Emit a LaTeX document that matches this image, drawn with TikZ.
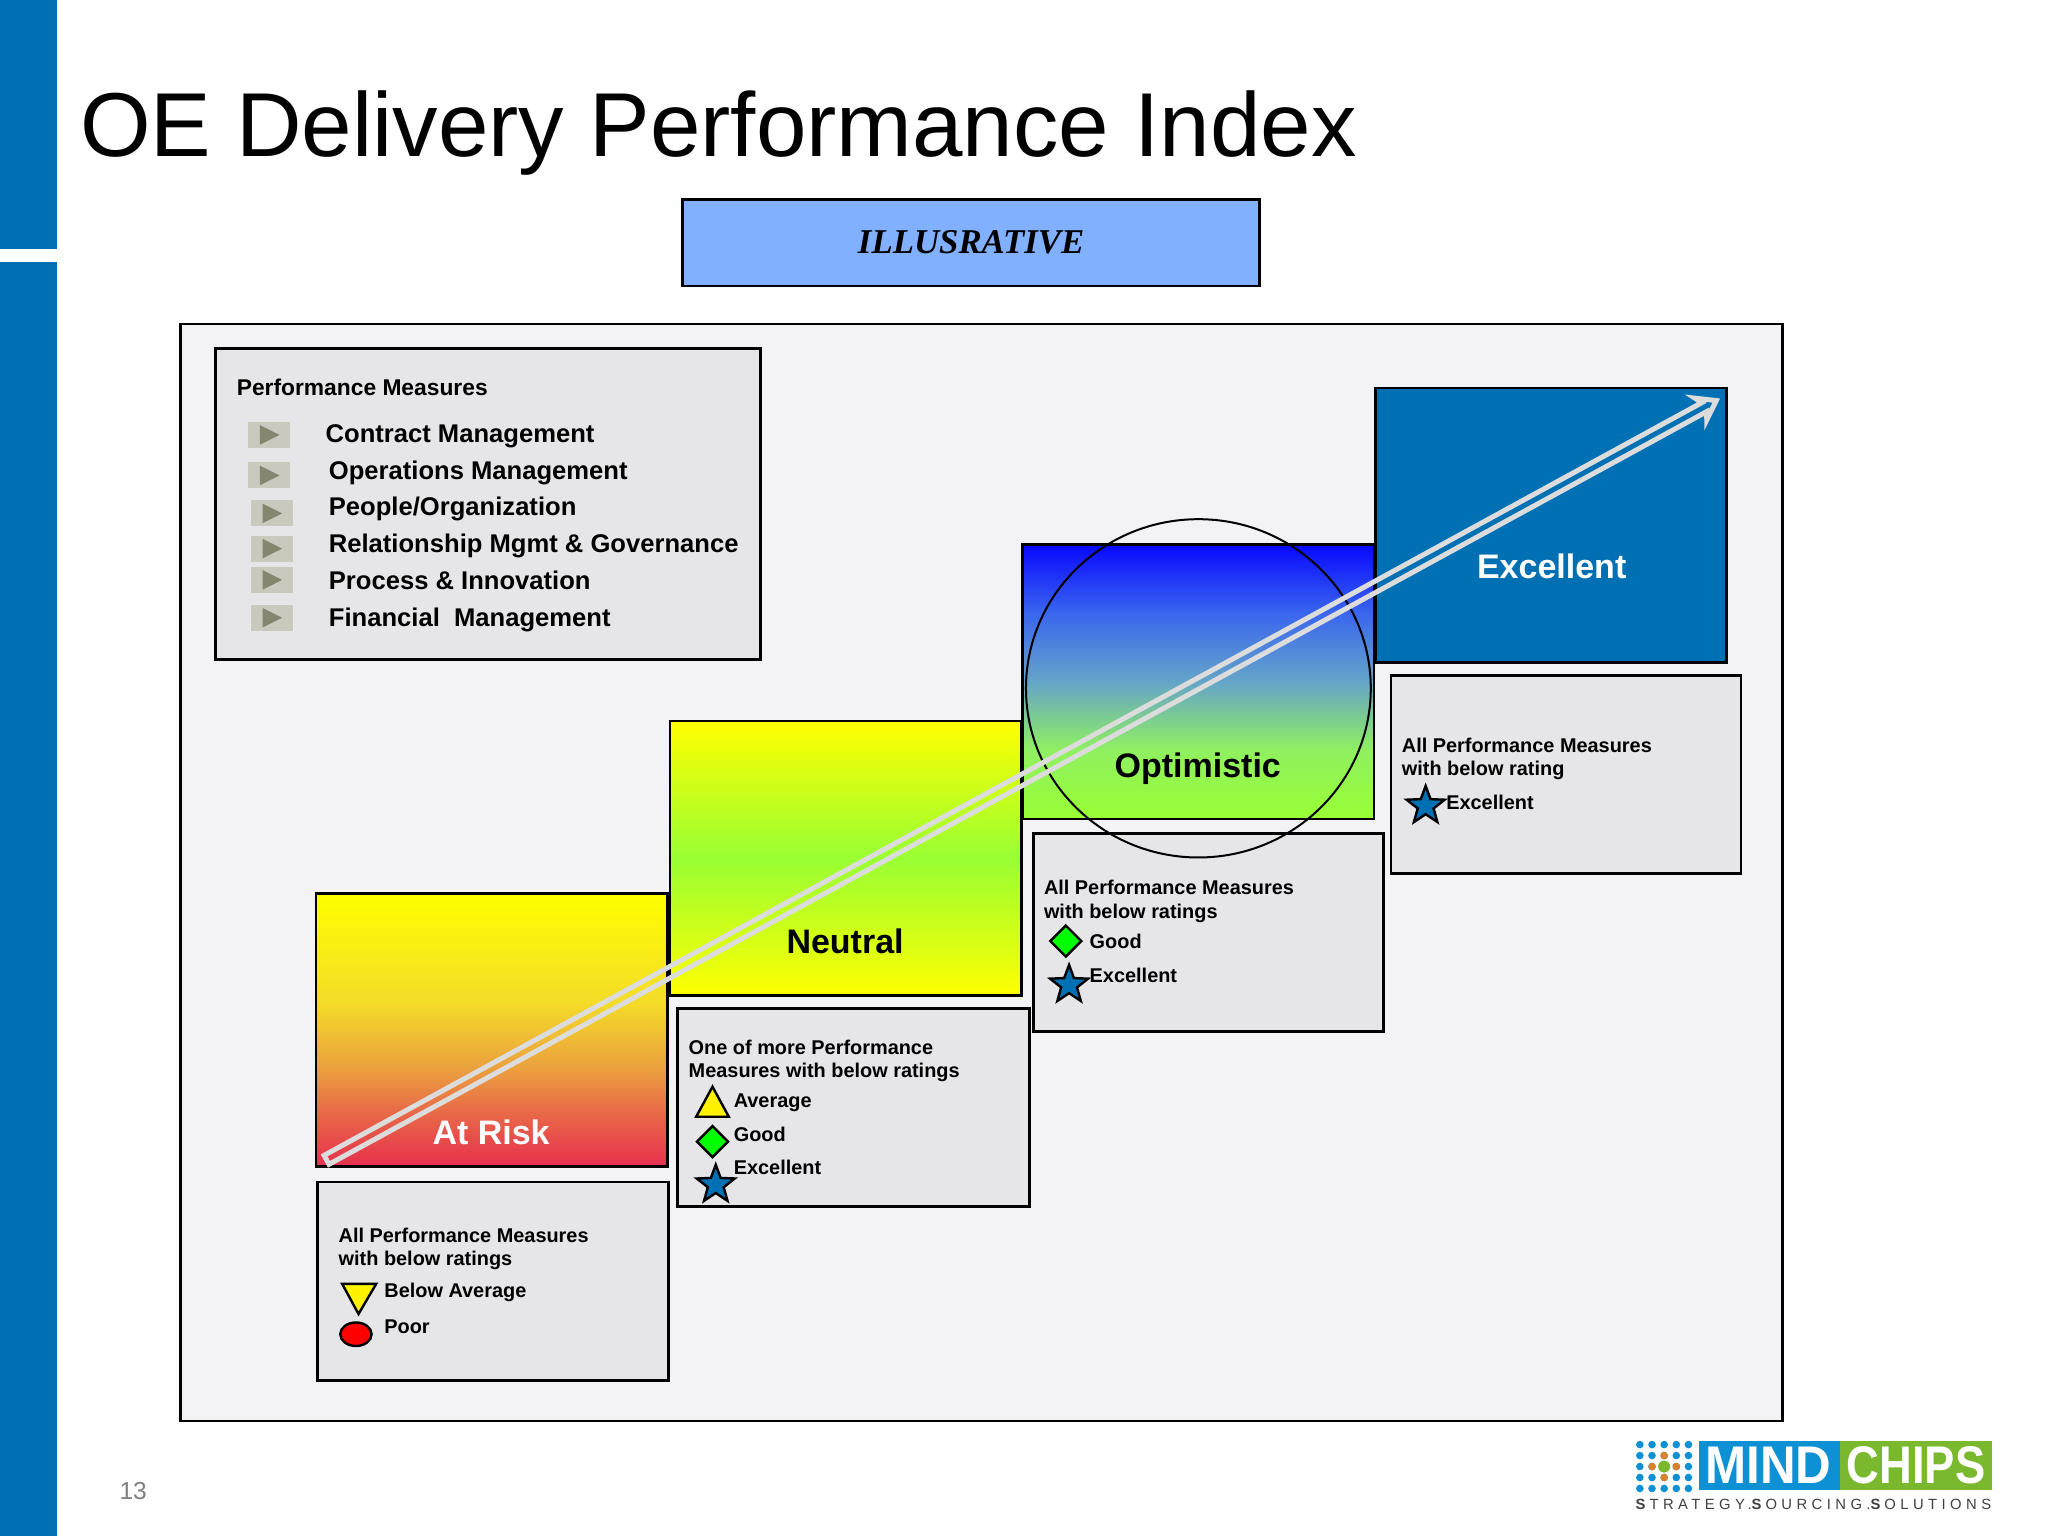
\documentclass[tikz,border=0pt]{standalone}
\usepackage{fontspec}
\setmainfont{Liberation Sans}
\newfontfamily\serifi{Liberation Serif}
\newfontfamily\logofont[LetterSpace=30]{Liberation Sans}
\usetikzlibrary{shapes.geometric}
\definecolor{mcblue}{HTML}{0070B4}
\definecolor{panelbg}{HTML}{F3F2F5}
\definecolor{boxbg}{HTML}{E6E5E8}
\definecolor{illus}{HTML}{80B0FF}
\definecolor{arrowgray}{HTML}{DCDCDC}
\definecolor{bulletbg}{HTML}{C9C9BD}
\definecolor{bulletfg}{HTML}{85866F}
\definecolor{riskred}{HTML}{E6304C}
\definecolor{riska}{HTML}{F4DC28}
\definecolor{riskb}{HTML}{EBA03E}
\definecolor{riskc}{HTML}{E86A48}
\definecolor{optblue}{HTML}{0808FF}
\definecolor{opta}{HTML}{3A66EE}
\definecolor{optb}{HTML}{65A5C8}
\definecolor{optc}{HTML}{90F060}
\definecolor{lgreen}{HTML}{99FF33}
\definecolor{logoblue}{HTML}{0E90D5}
\definecolor{logogreen}{HTML}{7AB82E}
\definecolor{dotorange}{HTML}{D9822B}
\newlength\uu \setlength\uu{0.65306pt}
\pgfdeclareverticalshading{neutralshade}{100bp}{color(0bp)=(yellow); color(25bp)=(yellow); color(50bp)=(lgreen); color(75bp)=(yellow); color(100bp)=(yellow)}
\pgfdeclareverticalshading{riskshade}{100bp}{color(0bp)=(riskred); color(25bp)=(riskred); color(35bp)=(riskc); color(43bp)=(riskb); color(55bp)=(riska); color(75bp)=(yellow); color(100bp)=(yellow)}
\pgfdeclareverticalshading{optshade}{100bp}{color(0bp)=(lgreen); color(25bp)=(lgreen); color(37.5bp)=(optc); color(50bp)=(optb); color(62.5bp)=(opta); color(75bp)=(optblue); color(100bp)=(optblue)}
\newcommand\bx[6]{\pgfmathsetlengthmacro\bw{(#4-#2)*\uu}\pgfmathsetlengthmacro\bh{(#5-#3)*\uu}%
 \node[#6,anchor=north west,minimum width=\bw,minimum height=\bh,inner sep=0pt,outer sep=0pt] (#1) at (#2,#3) {};}
\tikzset{
 frame/.style={draw=black,line width=1.4pt},
 graybox/.style={frame,fill=boxbg},
 small/.style={anchor=base west,inner sep=0pt,font=\fontsize{9.95}{12}\selectfont\bfseries},
 item/.style={anchor=base west,inner sep=0pt,font=\fontsize{12.8}{15}\selectfont\bfseries},
 big/.style={anchor=base,inner sep=0pt,font=\fontsize{17}{20}\selectfont\bfseries},
 bmark/.style={draw=black,line width=1.2pt,line join=miter},
 starm/.style={bmark,fill=mcblue,star,star points=5,star point ratio=2.4,minimum size=20pt,inner sep=0pt},
 diam/.style={bmark,fill=green,diamond,minimum width=16pt,minimum height=16pt,inner sep=0pt,aspect=1},
 logodot/.style={circle,fill=logoblue,inner sep=0pt,minimum size=3.8pt},
}
\begin{document}
\begin{tikzpicture}[x=\uu,y=-\uu]
\useasboundingbox (0,0) rectangle (1568,1176);
\fill[white] (0,0) rectangle (1568,1176);
% side bar
\fill[mcblue] (0,0) rectangle (44,190.5);
\fill[mcblue] (0,200.5) rectangle (44,1176);
% title
\node[anchor=base west,inner sep=0pt,font=\fontsize{45.4}{50}\selectfont] (title) at (61,120) {OE Delivery Performance Index};
\bx{illusbox}{522.5}{153}{964}{219}{frame,fill=illus}
\node[anchor=base,inner sep=0pt,font=\serifi\fontsize{17.4}{20}\selectfont\bfseries\itshape] (illustxt) at (743.5,194) {ILLUSRATIVE};
% panel
\bx{panel}{138}{248}{1365}{1088}{frame,fill=panelbg}
% performance measures box
\bx{pmbox}{165}{267}{582}{505}{graybox}
\node[anchor=base west,inner sep=0pt,font=\fontsize{11.4}{14}\selectfont\bfseries] (pmt) at (181,303) {Performance Measures};
\foreach \nm/\bxx/\by in {a/190/333,b/190/364,c/192/393,d/192/420,e/192/444,f/192/473}{
 \fill[bulletbg] (\bxx,\by-10) rectangle ++(32,20);
 \fill[bulletfg] (\bxx+9,\by-7.5) -- (\bxx+24,\by) -- (\bxx+9,\by+7.5) -- cycle;
}
\node[item] (i1) at (249,338.5) {Contract Management};
\node[item] (i2) at (251.5,367) {Operations Management};
\node[item] (i3) at (251.5,395) {People/Organization};
\node[item] (i4) at (251.5,423) {Relationship Mgmt \& Governance};
\node[item] (i5) at (251.5,451) {Process \& Innovation};
\node[item] (i6) at (251.5,480) {Financial\ \ Management};
% level boxes
\bx{risk}{242}{684}{511}{893}{frame,shading=riskshade}
\bx{neutral}{513}{552}{782}{762}{frame,shading=neutralshade}
\bx{opt}{783}{417}{1052}{627}{frame,shading=optshade}
\bx{exc}{1053}{297}{1322}{507}{frame,fill=mcblue}
\node[big,white] (l1) at (376,876) {At Risk};
\node[big] (l2) at (647,730) {Neutral};
\node[big] (l3) at (917,595) {Optimistic};
\node[big,white] (l4) at (1188,443) {Excellent};
% description boxes
\bx{d1}{243}{905}{512}{1057}{graybox}
\bx{d2}{519}{772}{788}{924}{graybox}
\bx{d3}{791}{638}{1059}{790}{graybox}
\bx{d4}{1065}{517}{1333}{669}{graybox}
\node[draw=black,line width=1pt,ellipse,minimum width=264\uu,minimum height=259\uu,inner sep=0pt] (circ) at (917.5,527) {};
% d1
\node[small] (t11) at (259,951) {All Performance Measures};
\node[small] (t12) at (259,969) {with below ratings};
\node[small] (t13) at (294,993) {Below Average};
\node[small] (t14) at (294,1021) {Poor};
\draw[bmark,fill=yellow] (262,983) -- (288,983) -- (274.5,1006) -- cycle;
\node[bmark,fill=red,ellipse,minimum width=24\uu,minimum height=18\uu,inner sep=0pt] (m1) at (272.5,1021.5) {};
% d2
\node[small] (t21) at (527,807) {One of more Performance};
\node[small] (t22) at (527,825) {Measures with below ratings};
\node[small] (t23) at (561.5,848) {Average};
\node[small] (t24) at (561.5,874) {Good};
\node[small] (t25) at (561.5,899) {Excellent};
\draw[bmark,fill=yellow] (545.5,832) -- (558,855) -- (533,855) -- cycle;
\node[diam] (m2) at (545.5,874) {};
\node[starm] (m3) at (548,907) {};
% d3
\node[small] (t31) at (799,685) {All Performance Measures};
\node[small] (t32) at (799,703) {with below ratings};
\node[small] (t33) at (834,726) {Good};
\node[small] (t34) at (834,752) {Excellent};
\node[diam] (m4) at (816,720.5) {};
\node[starm] (m5) at (818.5,754) {};
% d4
\node[small] (t41) at (1073,576) {All Performance Measures};
\node[small] (t42) at (1073,594) {with below rating};
\node[small] (t43) at (1107,620) {Excellent};
\node[starm] (m6) at (1091.5,617) {};
% arrow
\begin{scope}[shift={(250,888)},rotate=28.65]
\draw[arrowgray,line width=2.5pt,line join=miter,miter limit=10]
 (0,-3.9) -- (1202,-3.9) -- (1199,-9.5) -- (1212.5,0) -- (1199,9.5) -- (1202,3.9) -- (0,3.9) -- cycle;
\end{scope}
% page number
\node[anchor=base,inner sep=0pt,text=gray,font=\fontsize{12.3}{14}\selectfont] (pageno) at (102,1148) {13};
% logo
\foreach \c in {0,...,4}{\foreach \r in {0,...,4}{
 \node[logodot] (dot\c\r) at (1255.5+\c*9.3,1106+\r*8.4) {};}}
\foreach \c/\r in {2/1,1/2,3/2,2/3}{\node[logodot,fill=dotorange] at (1255.5+\c*9.3,1106+\r*8.4) {};}
\node[circle,fill=logogreen,inner sep=0pt,minimum size=6pt] (dotc) at (1274.1,1122.8) {};
\bx{lb}{1301}{1103}{1409}{1141}{fill=logoblue}
\bx{lg}{1409}{1103}{1525}{1141}{fill=logogreen}
\node[anchor=base,inner sep=0pt,white,xscale=0.93,transform shape,font=\fontsize{26.5}{30}\selectfont\bfseries] (mind) at (1354,1135.5) {MIND};
\node[anchor=base,inner sep=0pt,white,xscale=0.855,transform shape,font=\fontsize{26.5}{30}\selectfont\bfseries] (chips) at (1467,1135.5) {CHIPS};
\node[anchor=base west,inner sep=0pt,text=black!75,font=\logofont\fontsize{7.4}{9}\selectfont] (tag) at (1252,1156) {{\bfseries S}\kern2pt TRATEGY.{\bfseries S}\kern2pt OURCING.{\bfseries S}\kern2pt OLUTIONS};
\end{tikzpicture}
\end{document}
